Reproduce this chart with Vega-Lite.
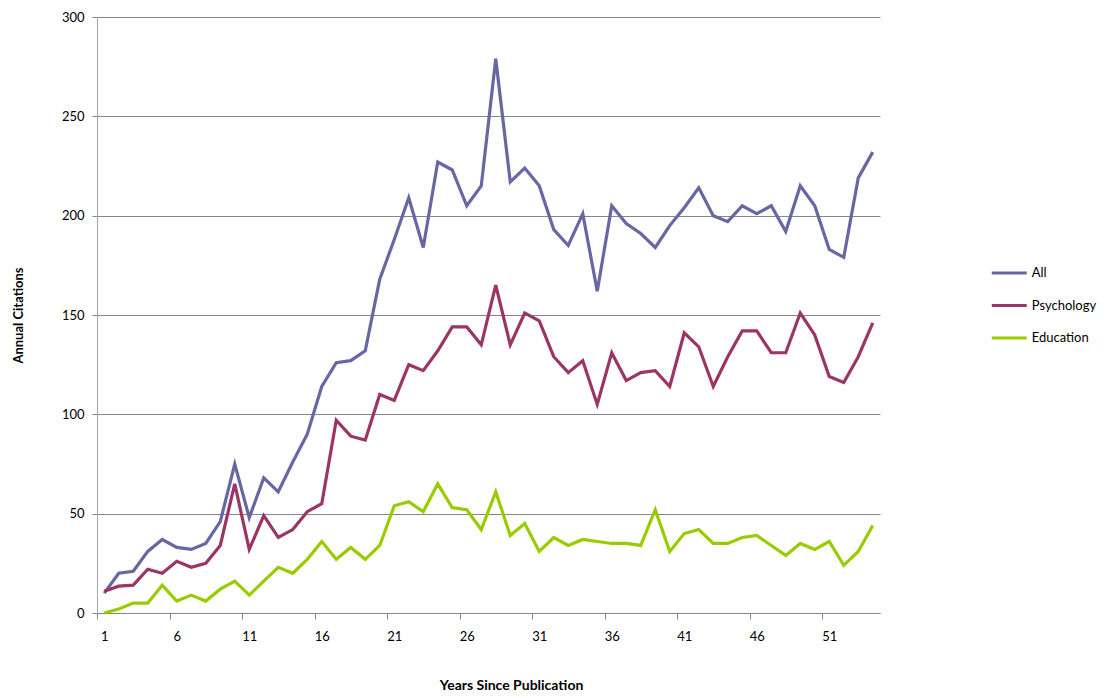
{
  "$schema": "https://vega.github.io/schema/vega-lite/v6.json",
  "autosize": "none",
  "width": 783,
  "height": 596,
  "padding": {"left": 97, "top": 17, "right": 227, "bottom": 85},
  "background": "white",
  "config": {
    "view": {"stroke": null},
    "font": "Lato",
    "axis": {"labelFont": "Lato", "titleFont": "Lato", "labelColor": "#000000", "titleColor": "#000000"}
  },
  "data": {
    "values": [
      {"year": 1, "All": 10, "Psychology": 11, "Education": 0},
      {"year": 2, "All": 20, "Psychology": 13.5, "Education": 2},
      {"year": 3, "All": 21, "Psychology": 14, "Education": 5},
      {"year": 4, "All": 31, "Psychology": 22, "Education": 5},
      {"year": 5, "All": 37, "Psychology": 20, "Education": 14},
      {"year": 6, "All": 33, "Psychology": 26, "Education": 6},
      {"year": 7, "All": 32, "Psychology": 23, "Education": 9},
      {"year": 8, "All": 35, "Psychology": 25, "Education": 6},
      {"year": 9, "All": 46, "Psychology": 34, "Education": 12},
      {"year": 10, "All": 75, "Psychology": 65, "Education": 16},
      {"year": 11, "All": 48, "Psychology": 32, "Education": 9},
      {"year": 12, "All": 68, "Psychology": 49, "Education": 16},
      {"year": 13, "All": 61, "Psychology": 38, "Education": 23},
      {"year": 14, "All": 76, "Psychology": 42, "Education": 20},
      {"year": 15, "All": 90, "Psychology": 51, "Education": 27},
      {"year": 16, "All": 114, "Psychology": 55, "Education": 36},
      {"year": 17, "All": 126, "Psychology": 97, "Education": 27},
      {"year": 18, "All": 127, "Psychology": 89, "Education": 33},
      {"year": 19, "All": 132, "Psychology": 87, "Education": 27},
      {"year": 20, "All": 168, "Psychology": 110, "Education": 34},
      {"year": 21, "All": 188, "Psychology": 107, "Education": 54},
      {"year": 22, "All": 209, "Psychology": 125, "Education": 56},
      {"year": 23, "All": 184, "Psychology": 122, "Education": 51},
      {"year": 24, "All": 227, "Psychology": 132, "Education": 65},
      {"year": 25, "All": 223, "Psychology": 144, "Education": 53},
      {"year": 26, "All": 205, "Psychology": 144, "Education": 52},
      {"year": 27, "All": 215, "Psychology": 135, "Education": 42},
      {"year": 28, "All": 279, "Psychology": 165, "Education": 61},
      {"year": 29, "All": 217, "Psychology": 135, "Education": 39},
      {"year": 30, "All": 224, "Psychology": 151, "Education": 45},
      {"year": 31, "All": 215, "Psychology": 147, "Education": 31},
      {"year": 32, "All": 193, "Psychology": 129, "Education": 38},
      {"year": 33, "All": 185, "Psychology": 121, "Education": 34},
      {"year": 34, "All": 201, "Psychology": 127, "Education": 37},
      {"year": 35, "All": 162, "Psychology": 105, "Education": 36},
      {"year": 36, "All": 205, "Psychology": 131, "Education": 35},
      {"year": 37, "All": 196, "Psychology": 117, "Education": 35},
      {"year": 38, "All": 191, "Psychology": 121, "Education": 34},
      {"year": 39, "All": 184, "Psychology": 122, "Education": 52},
      {"year": 40, "All": 195, "Psychology": 114, "Education": 31},
      {"year": 41, "All": 204, "Psychology": 141, "Education": 40},
      {"year": 42, "All": 214, "Psychology": 134, "Education": 42},
      {"year": 43, "All": 200, "Psychology": 114, "Education": 35},
      {"year": 44, "All": 197, "Psychology": 129, "Education": 35},
      {"year": 45, "All": 205, "Psychology": 142, "Education": 38},
      {"year": 46, "All": 201, "Psychology": 142, "Education": 39},
      {"year": 47, "All": 205, "Psychology": 131, "Education": 34},
      {"year": 48, "All": 192, "Psychology": 131, "Education": 29},
      {"year": 49, "All": 215, "Psychology": 151, "Education": 35},
      {"year": 50, "All": 205, "Psychology": 140, "Education": 32},
      {"year": 51, "All": 183, "Psychology": 119, "Education": 36},
      {"year": 52, "All": 179, "Psychology": 116, "Education": 24},
      {"year": 53, "All": 219, "Psychology": 129, "Education": 31},
      {"year": 54, "All": 232, "Psychology": 146, "Education": 44}
    ]
  },
  "transform": [
    {"fold": ["All", "Psychology", "Education"], "as": ["series", "citations"]}
  ],
  "encoding": {
    "x": {"field": "year", "type": "quantitative", "scale": {"domain": [0.5, 54.5], "nice": false, "zero": false}},
    "y": {"field": "citations", "type": "quantitative", "scale": {"domain": [0, 300], "nice": false},
      "axis": {
        "values": [0, 50, 100, 150, 200, 250, 300],
        "title": "Annual Citations", "titleFontSize": 13, "titleFontWeight": "bold",
        "titleX": -79, "titleY": 298, "titleAngle": -90, "titleAlign": "center", "titleBaseline": "middle",
        "labelFontSize": 13, "labelPadding": 8,
        "tickSize": 5, "tickColor": "#868686", "domainColor": "#A6A6A6",
        "grid": true, "gridColor": "#868686", "gridWidth": 1
      }
    }
  },
  "layer": [
    {
      "mark": {"type": "line", "strokeWidth": 3.2, "strokeJoin": "miter"},
      "encoding": {
        "color": {
          "field": "series", "type": "nominal",
          "scale": {"domain": ["All", "Psychology", "Education"], "range": ["#6667A3", "#9A3566", "#99CC00"]},
          "legend": {
            "title": null, "orient": "none", "legendX": 901.75, "legendY": 245.5, "padding": 0,
            "symbolType": "M-2,0H2", "symbolSize": 306, "symbolStrokeWidth": 3,
            "labelFontSize": 13, "labelOffset": 12, "rowPadding": 14.5, "labelColor": "#000000", "labelFont": "Lato"
          }
        },
        "x": {
          "field": "year", "type": "quantitative",
          "axis": {
            "orient": "bottom", "values": [1, 6, 11, 16, 21, 26, 31, 36, 41, 46, 51],
            "ticks": false, "tickSize": 0, "labelPadding": 17, "labelFontSize": 13, "grid": false,
            "domainColor": "#868686",
            "title": "Years Since Publication", "titleFontSize": 14, "titleFontWeight": "bold",
            "titleX": 414, "titleY": 72, "titleBaseline": "middle"
          }
        }
      }
    },
    {
      "mark": {"type": "line", "opacity": 0},
      "encoding": {
        "detail": {"field": "series", "type": "nominal"},
        "x": {
          "field": "year", "type": "quantitative",
          "axis": {
            "orient": "bottom", "values": [0.5, 5.5, 10.5, 15.5, 20.5, 25.5, 30.5, 35.5, 40.5, 45.5, 50.5],
            "labels": false, "ticks": true, "tickSize": 6, "tickColor": "#868686", "domain": false, "grid": false, "title": null
          }
        }
      }
    }
  ],
  "resolve": {"axis": {"x": "independent"}}
}
